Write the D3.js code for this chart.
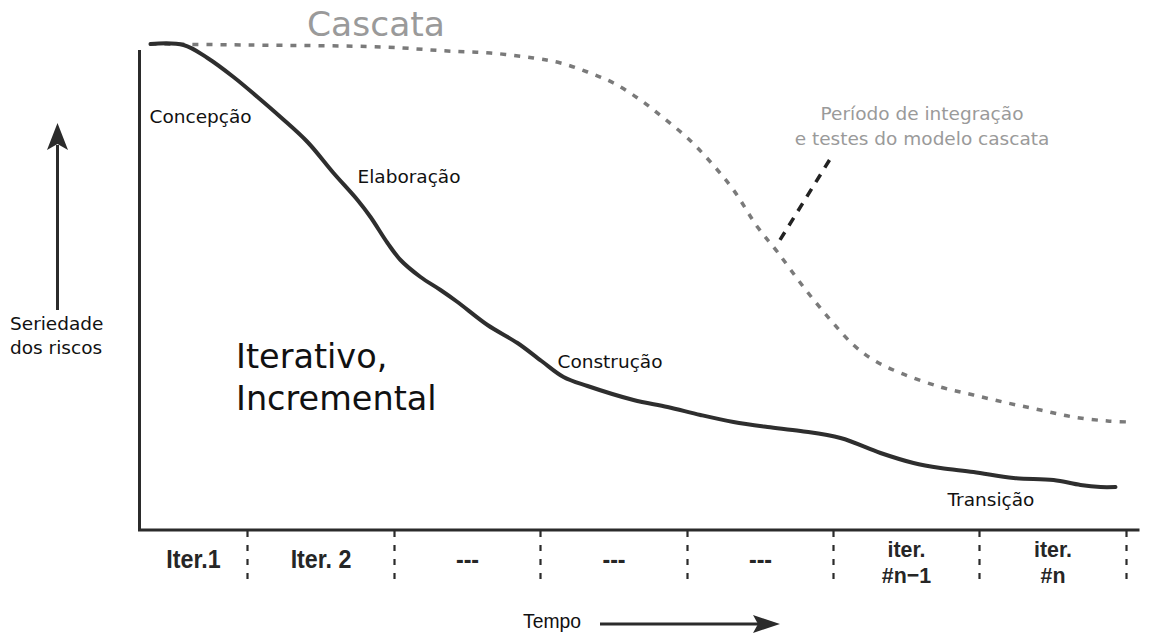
<!DOCTYPE html>
<html lang="pt">
<head>
<meta charset="utf-8">
<script src="https://cdn.jsdelivr.net/npm/d3@7"></script>
<style>
  html, body { margin: 0; padding: 0; background: #fff; }
  svg { display: block; }
</style>
</head>
<body>
<svg id="chart" width="1155" height="637"></svg>
<script>
// Risco ao longo do tempo: ciclo iterativo/incremental versus cascata
// Tempo em unidades relativas (0–100), seriedade dos riscos (0–100)

const iterTime = [1.1, 4.4, 6.8, 9.4, 11.8, 14.1, 16.8, 19.4, 21.8, 23.1, 24.8, 26.1, 28.1, 30.1,
  31.8, 34.8, 37.8, 40.2, 42.4, 44.8, 49.4, 52.8, 56.1, 59.4, 62.8, 66.1, 70.1, 74.1, 77.4,
  80.1, 83.4, 87.4, 91.4, 94.1, 96.1, 97.6];
const iterRisk = [97.2, 97.0, 94.4, 90.6, 86.6, 82.6, 77.6, 71.4, 66.0, 62.6, 57.4, 54.0, 50.6, 48.0,
  45.6, 41.0, 37.4, 33.8, 30.6, 28.8, 26.0, 24.6, 23.0, 21.6, 20.6, 19.8, 18.4, 15.4, 13.4,
  12.4, 11.6, 10.4, 10.0, 9.0, 8.6, 8.6];

const cascTime = [1.1, 11.1, 24.4, 30.8, 35.1, 39.4, 42.1, 44.8, 47.4, 50.1, 52.4, 54.8, 57.1,
  59.4, 61.8, 63.8, 66.4, 69.1, 71.4, 73.4, 76.1, 80.1, 83.4, 86.8, 90.1, 93.4, 96.8, 99.1];
const cascRisk = [97.2, 97.0, 96.6, 95.8, 95.4, 94.4, 93.4, 91.6, 89.4, 86.0, 82.4, 78.4, 73.6,
  68.0, 60.6, 55.6, 48.6, 42.0, 37.0, 34.0, 31.4, 28.6, 27.0, 25.4, 24.0, 22.6, 21.8, 21.6];

// Limites das iterações no eixo do tempo
const iterBounds = [10.8, 25.5, 40.1, 54.8, 69.4, 84.0, 98.7];
const iterLabels = [["Iter.1"], ["Iter. 2"], ["---"], ["---"], ["---"], ["iter.", "#n\u22121"], ["iter.", "#n"]];

// Fases do processo, ancoradas no espaço dos dados
const phaseNames = ["Concepção", "Elaboração", "Construção", "Transição"];
const phaseTime = [1.0, 21.8, 41.8, 80.8];
const phaseRisk = [81.4, 69.4, 32.4, 4.8];

// Chamada do período de integração (do rótulo até a curva cascata)
const calloutTime = [69.0, 63.8];
const calloutRisk = [74.0, 57.2];

const svg = d3.select("#chart");
const x = d3.scaleLinear().domain([0, 100]).range([139.5, 1139.5]);
const y = d3.scaleLinear().domain([0, 100]).range([530, 30]);

const sans = "'DejaVu Sans', Verdana, sans-serif";
const cond = "'Liberation Sans', Arial, sans-serif";

// Eixos
svg.append("line")
  .attr("x1", x(0)).attr("x2", x(0)).attr("y1", y(96)).attr("y2", y(0))
  .attr("stroke", "#2b2b2b").attr("stroke-width", 3);
svg.append("line")
  .attr("x1", x(0) - 1.5).attr("x2", x(100)).attr("y1", y(0)).attr("y2", y(0))
  .attr("stroke", "#2b2b2b").attr("stroke-width", 3);

// Divisões das iterações
svg.append("g").selectAll("line").data(iterBounds).join("line")
  .attr("x1", d => x(d)).attr("x2", d => x(d))
  .attr("y1", y(0) + 1).attr("y2", y(0) + 54)
  .attr("stroke", "#2b2b2b").attr("stroke-width", 2.2)
  .attr("stroke-dasharray", "6,8");

const starts = [0, ...iterBounds.slice(0, -1)];
const labG = svg.append("g");
iterLabels.forEach((lines, i) => {
  const cx = x((starts[i] + iterBounds[i]) / 2);
  const two = lines.length > 1;
  const base = two ? 557 : 568;
  lines.forEach((t, j) => {
    labG.append("text")
      .attr("transform", `translate(${cx},${base + j * 26}) scale(0.93,1)`)
      .attr("text-anchor", "middle")
      .attr("font-family", cond).attr("font-weight", "bold")
      .attr("font-size", two ? 23 : 25).attr("fill", "#262626")
      .text(t);
  });
});

// Curva cascata (tracejada)
const line = d3.line().x(d => x(d[0])).y(d => y(d[1])).curve(d3.curveCatmullRom.alpha(0.5));
svg.append("path")
  .datum(d3.zip(cascTime, cascRisk))
  .attr("d", line)
  .attr("fill", "none").attr("stroke", "#7a7a7a").attr("stroke-width", 3.5)
  .attr("stroke-dasharray", "6,8");

// Curva iterativa (contínua)
svg.append("path")
  .datum(d3.zip(iterTime, iterRisk))
  .attr("d", line)
  .attr("fill", "none").attr("stroke", "#2e2e2e").attr("stroke-width", 4)
  .attr("stroke-linecap", "round");

// Chamada tracejada
svg.append("line")
  .attr("x1", x(calloutTime[0])).attr("y1", y(calloutRisk[0]))
  .attr("x2", x(calloutTime[1])).attr("y2", y(calloutRisk[1]))
  .attr("stroke", "#222").attr("stroke-width", 3.5).attr("stroke-dasharray", "9,8");

// Rótulos das fases
svg.append("g").selectAll("text").data(phaseNames).join("text")
  .attr("x", (d, i) => x(phaseTime[i])).attr("y", (d, i) => y(phaseRisk[i]))
  .attr("font-family", sans).attr("font-size", 18.5).attr("fill", "#111")
  .text(d => d);

// Título da cascata
svg.append("text")
  .attr("x", 376).attr("y", 36).attr("text-anchor", "middle")
  .attr("font-family", sans).attr("font-size", 34.5).attr("fill", "#9a9a9a")
  .text("Cascata");

// Nota do período de integração
const note = svg.append("text")
  .attr("text-anchor", "middle")
  .attr("font-family", sans).attr("font-size", 18.5).attr("fill", "#9a9a9a");
note.append("tspan").attr("x", 922).attr("y", 120).text("Período de integração");
note.append("tspan").attr("x", 922).attr("y", 145).text("e testes do modelo cascata");

// Texto principal
const big = svg.append("text")
  .attr("font-family", sans).attr("font-size", 33.5).attr("fill", "#111");
big.append("tspan").attr("x", 236).attr("y", 368).text("Iterativo,");
big.append("tspan").attr("x", 236).attr("y", 410).text("Incremental");

// Eixo y: seta e rótulo
svg.append("line")
  .attr("x1", 57.5).attr("x2", 57.5).attr("y1", 310).attr("y2", 145)
  .attr("stroke", "#2b2b2b").attr("stroke-width", 3);
svg.append("path")
  .attr("d", "M57.5,123 L68,150 L57.5,144 L47,150 Z")
  .attr("fill", "#2b2b2b");
const yl = svg.append("text")
  .attr("font-family", sans).attr("font-size", 18.5).attr("fill", "#111");
yl.append("tspan").attr("x", 10).attr("y", 330).text("Seriedade");
yl.append("tspan").attr("x", 10).attr("y", 354).text("dos riscos");

// Eixo x: seta do tempo
svg.append("text")
  .attr("transform", "translate(552,628) scale(0.92,1)")
  .attr("text-anchor", "middle")
  .attr("font-family", cond).attr("font-size", 21).attr("fill", "#111")
  .text("Tempo");
svg.append("line")
  .attr("x1", 600).attr("x2", 762).attr("y1", 624).attr("y2", 624)
  .attr("stroke", "#2b2b2b").attr("stroke-width", 3);
svg.append("path")
  .attr("d", "M780,624 L753,615 L758,624 L753,633 Z")
  .attr("fill", "#2b2b2b");
</script>
</body>
</html>
